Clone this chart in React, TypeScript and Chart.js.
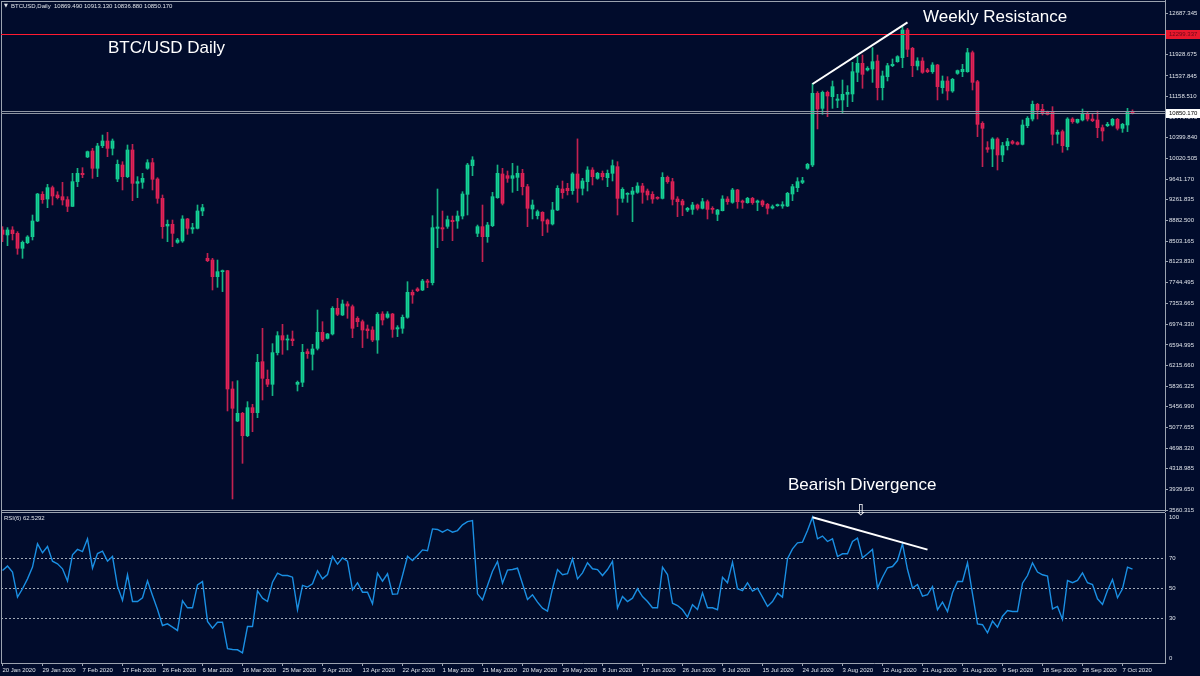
import React, { useEffect, useRef } from "react";
import { Chart, registerables } from "chart.js";

Chart.register(...registerables);

// ---------- DATA ----------
const OPEN = [
  8706, 8614, 8706, 8644, 8369, 8473, 8583, 8871, 9361, 9275,
  9484, 9349, 9318, 9263, 9140, 9594, 9747, 10047, 10157, 9839,
  10255, 10341, 10206, 9643, 9900, 9686, 10176, 9563, 9582, 9839,
  9943, 9643, 9287, 8779, 8810, 8479, 8504, 8908, 8724, 8736,
  9055, 8185, 8154, 7848, 7940, 7958, 5784, 5196, 5337, 4926,
  5441, 5349, 6286, 5962, 5870, 6452, 6764, 6684, 6703, 5870,
  5907, 6470, 6421, 6531, 6825, 6715, 6795, 7266, 7144, 7346,
  7297, 7083, 7021, 6887, 6868, 6684, 7162, 7101, 7162, 6887,
  6899, 7101, 7560, 7622, 7603, 7768, 7738, 8736, 8748, 8773,
  8883, 8871, 8963, 9361, 9888, 8644, 8767, 8583, 8785, 9300,
  9735, 9704, 9655, 9673, 9747, 9502, 9091, 8969, 9030, 8889,
  8816, 9073, 9459, 9471, 9428, 9735, 9471, 9594, 9808, 9655,
  9747, 9667, 9747, 9869, 9287, 9361, 9361, 9398, 9514, 9422,
  9361, 9306, 9287, 9673, 9594, 9275, 9238, 9073, 9085, 9165,
  9104, 9226, 9104, 8993, 9061, 9275, 9214, 9441, 9238, 9208,
  9287, 9214, 9238, 9177, 9110, 9153, 9147, 9147, 9367, 9483,
  9581, 9839, 9900, 11217, 10941, 11235, 11156, 11088, 11095, 11199,
  11205, 11603, 11768, 11646, 11664, 11811, 11321, 11523, 11725, 11799,
  11872, 12381, 12044, 11719, 11811, 11646, 11615, 11738, 11321, 11444,
  11260, 11584, 11615, 11615, 11964, 11431, 10666, 10219, 10194, 10378,
  10084, 10255, 10329, 10311, 10280, 10623, 10745, 11015, 10923, 10868,
  10880, 10464, 10513, 10237, 10745, 10684, 10727, 10850, 10745, 10727,
  10586, 10623, 10635, 10739, 10574, 10635, 10869.49,
];
const HIGH = [
  8767, 8749, 8767, 8675, 8504, 8602, 8981, 9379, 9410, 9545,
  9514, 9410, 9582, 9318, 9747, 9839, 9851, 10157, 10206, 10298,
  10451, 10500, 10378, 9992, 9961, 10268, 10280, 9686, 9747, 9998,
  10022, 9667, 9349, 8889, 8889, 8552, 8969, 8920, 8828, 9165,
  9177, 8277, 8185, 8154, 7971, 7965, 5919, 5937, 5355, 5551,
  5502, 6421, 6899, 6133, 6617, 6838, 6972, 6776, 6850, 5931,
  6605, 6519, 6605, 7236, 7021, 6807, 7297, 7450, 7419, 7389,
  7328, 7113, 7052, 6960, 6929, 7187, 7205, 7205, 7174, 6948,
  7144, 7756, 7603, 7646, 7799, 7799, 8969, 9459, 9055, 8963,
  8963, 9055, 9410, 9931, 10053, 8797, 9165, 8846, 9398, 9900,
  9839, 9790, 9931, 9882, 9820, 9545, 9257, 9073, 9043, 8908,
  9214, 9520, 9606, 9563, 9759, 10380, 9655, 9869, 9851, 9765,
  9790, 9808, 9992, 9961, 9483, 9392, 9490, 9575, 9563, 9459,
  9410, 9318, 9759, 9698, 9655, 9318, 9269, 9122, 9214, 9183,
  9287, 9257, 9134, 9085, 9336, 9318, 9471, 9453, 9257, 9306,
  9306, 9257, 9257, 9196, 9165, 9183, 9226, 9398, 9545, 9667,
  9673, 9931, 11401, 11248, 11260, 11260, 11444, 11199, 11462, 11358,
  11787, 11891, 11921, 11707, 12056, 11921, 11627, 11768, 11848, 11909,
  12442, 12411, 12062, 11872, 11872, 11676, 11781, 11750, 11536, 11523,
  11493, 11646, 11750, 12044, 11995, 11456, 10696, 10329, 10402, 10402,
  10317, 10390, 10353, 10329, 10727, 10788, 11076, 11033, 11015, 10892,
  10972, 10543, 10543, 10770, 10770, 10745, 10929, 10868, 10850, 10892,
  10635, 10684, 10758, 10758, 10666, 10941, 10913.13,
];
const LOW = [
  8491, 8418, 8522, 8259, 8185, 8455, 8522, 8859, 9196, 9116,
  9165, 9275, 9165, 9043, 9134, 9502, 9667, 10035, 9655, 9686,
  10219, 10053, 10084, 9594, 9441, 9667, 9245, 9300, 9471, 9820,
  9441, 9196, 8552, 8491, 8399, 8461, 8479, 8626, 8644, 8724,
  8969, 8124, 7603, 7652, 7573, 5380, 3763, 5184, 4418, 4908,
  4999, 5257, 5582, 5827, 5662, 6409, 6421, 6501, 6580, 5747,
  5827, 6347, 6133, 6501, 6654, 6703, 6776, 7132, 7132, 7083,
  6727, 6929, 6544, 6715, 6654, 6439, 6960, 7083, 6733, 6746,
  6807, 7083, 7358, 7573, 7591, 7646, 7695, 8381, 8510, 8736,
  8510, 8736, 8908, 8981, 9704, 8583, 8124, 8479, 8767, 9287,
  9165, 9581, 9398, 9428, 9349, 8767, 8908, 8908, 8601, 8663,
  8797, 9061, 9287, 9349, 9361, 9214, 9349, 9422, 9532, 9637,
  9624, 9502, 9606, 8981, 9214, 9214, 8859, 9379, 9196, 9257,
  9196, 9269, 9275, 9563, 9165, 8951, 8969, 9043, 8993, 9073,
  9091, 8908, 9012, 8877, 9055, 9177, 9196, 9104, 9104, 9196,
  9177, 9061, 9134, 8999, 9091, 9140, 9104, 9134, 9245, 9410,
  9557, 9820, 9869, 10562, 10831, 10788, 10941, 10954, 10850, 10972,
  11064, 11431, 11309, 11627, 11419, 11095, 11095, 11444, 11707, 11787,
  11689, 11891, 11523, 11646, 11584, 11597, 11584, 11095, 11217, 11095,
  11235, 11566, 11523, 11603, 11278, 10421, 9869, 10133, 9869, 9808,
  9961, 10176, 10280, 10268, 10268, 10586, 10709, 10745, 10819, 10819,
  10268, 10298, 10133, 10176, 10666, 10666, 10709, 10709, 10696, 10402,
  10341, 10605, 10617, 10543, 10500, 10513, 10836.88,
];
const CLOSE = [
  8626, 8706, 8638, 8369, 8479, 8577, 8871, 9367, 9263, 9484,
  9330, 9300, 9257, 9140, 9594, 9747, 9722, 10145, 9839, 10249,
  10341, 10206, 10341, 9912, 9686, 10176, 9563, 9594, 9655, 9943,
  9637, 9287, 8767, 8810, 8644, 8522, 8908, 8736, 8749, 9055,
  9116, 8142, 7848, 7940, 7958, 5784, 5429, 5337, 4926, 5441,
  5349, 6274, 5980, 5870, 6452, 6764, 6684, 6703, 6672, 5907,
  6458, 6433, 6519, 6825, 6684, 6795, 7266, 7156, 7346, 7309,
  6899, 7021, 6868, 6856, 6684, 7156, 7052, 7162, 6880, 6911,
  7101, 7560, 7511, 7591, 7768, 7744, 8748, 8761, 8724, 8896,
  8859, 8963, 9367, 9900, 9992, 8767, 8583, 8797, 9318, 9747,
  9196, 9655, 9704, 9747, 9502, 9104, 9165, 9043, 8871, 8816,
  9073, 9471, 9392, 9428, 9735, 9471, 9606, 9808, 9686, 9747,
  9686, 9747, 9888, 9287, 9453, 9379, 9422, 9514, 9398, 9349,
  9275, 9287, 9673, 9594, 9269, 9226, 9165, 9104, 9165, 9104,
  9226, 9085, 9085, 9073, 9275, 9226, 9441, 9226, 9214, 9287,
  9208, 9238, 9165, 9104, 9134, 9171, 9171, 9379, 9502, 9594,
  9612, 9912, 11217, 10929, 11235, 11168, 11340, 11113, 11199, 11235,
  11615, 11768, 11566, 11676, 11799, 11321, 11536, 11725, 11750, 11891,
  12381, 12026, 11725, 11811, 11603, 11615, 11738, 11340, 11444, 11260,
  11474, 11634, 11658, 11964, 11419, 10647, 10574, 10188, 10378, 10084,
  10255, 10329, 10298, 10280, 10635, 10758, 11015, 10911, 10850, 10831,
  10464, 10500, 10255, 10745, 10696, 10739, 10850, 10745, 10715, 10586,
  10525, 10647, 10739, 10574, 10647, 10880, 10850.17,
];
const RSI = [
  61.7, 64.6, 60.6, 43.9, 49.5, 56.1, 63.9, 79.5, 73.5, 77.7,
  67.9, 66.1, 62.8, 54.6, 72.1, 75.7, 74.3, 82.8, 63.2, 73.0,
  74.6, 67.9, 71.0, 51.2, 41.7, 58.8, 41.0, 41.0, 43.5, 54.8,
  45.0, 35.7, 25.0, 26.1, 23.9, 21.7, 41.5, 36.8, 36.8, 52.1,
  54.3, 27.7, 23.2, 27.2, 27.2, 9.5, 9.0, 8.8, 6.8, 24.3,
  24.3, 48.1, 43.2, 41.0, 53.9, 59.9, 58.3, 58.3, 57.2, 35.5,
  51.7, 50.6, 52.8, 61.5, 56.1, 59.0, 71.0, 65.9, 70.1, 67.9,
  48.8, 53.5, 47.2, 47.2, 39.5, 59.9, 54.6, 59.5, 45.9, 46.1,
  58.3, 71.2, 68.3, 71.7, 75.4, 74.8, 89.4, 89.0, 87.2, 89.0,
  87.2, 88.3, 92.1, 94.3, 95.0, 46.1, 42.1, 51.7, 61.2, 67.7,
  53.2, 61.9, 62.3, 63.2, 52.8, 42.3, 45.5, 40.6, 36.6, 34.6,
  49.5, 62.3, 58.8, 59.5, 69.5, 56.1, 60.1, 66.8, 62.8,
  62.3, 58.3, 62.3, 67.7, 36.6, 44.3, 41.0, 43.2, 49.5, 44.3,
  41.0, 36.8, 36.8, 63.9, 59.0, 39.9, 38.3, 35.5, 30.6, 38.8,
  35.7, 46.8, 36.8, 36.8, 35.5, 57.2, 53.5, 67.2, 49.5, 48.3,
  53.5, 47.9, 49.9, 43.9, 37.7, 41.0, 46.6, 43.9, 69.5, 76.1,
  80.1, 80.6, 88.3, 97.2, 82.8, 84.6, 81.0, 82.8, 71.0, 72.8,
  72.8, 81.0, 83.2, 70.1, 72.8, 75.7, 49.9, 57.2, 63.5, 64.3,
  68.3, 79.5, 62.3, 49.9, 52.3, 44.6, 45.5, 51.0, 35.5, 40.6,
  34.3, 46.8, 54.3, 54.3, 66.8, 46.1, 26.1, 25.5, 20.1, 27.9,
  23.9, 31.2, 35.0, 34.3, 34.3, 53.2, 58.3, 66.8, 60.6, 58.8,
  57.9, 36.1, 37.7, 29.0, 55.0, 53.5, 55.0, 60.1, 53.5, 52.3,
  42.8, 39.0, 48.3, 55.7, 43.5, 49.5, 63.9, 62.5292,
];
const X_TICK_LABELS = [
  "20 Jan 2020", "29 Jan 2020", "7 Feb 2020", "17 Feb 2020", "26 Feb 2020",
  "6 Mar 2020", "16 Mar 2020", "25 Mar 2020", "3 Apr 2020", "13 Apr 2020",
  "22 Apr 2020", "1 May 2020", "11 May 2020", "20 May 2020", "29 May 2020",
  "8 Jun 2020", "17 Jun 2020", "26 Jun 2020", "6 Jul 2020", "15 Jul 2020",
  "24 Jul 2020", "3 Aug 2020", "12 Aug 2020", "21 Aug 2020", "31 Aug 2020",
  "9 Sep 2020", "18 Sep 2020", "28 Sep 2020", "7 Oct 2020",
];
const X_TICK_STEP = 8;
const PRICE_TICKS = [
  12687.345, 12308.01, 11928.675, 11537.845, 11158.51, 10779.175, 10399.84,
  10020.505, 9641.17, 9261.835, 8882.5, 8503.165, 8123.83, 7744.495, 7353.665,
  6974.33, 6594.995, 6215.66, 5836.325, 5456.99, 5077.655, 4698.32, 4318.985,
  3939.65, 3560.315,
];
const PRICE_RANGE = [3542, 12932];
const RSI_TICKS = [100, 70, 50, 30, 0];
const RSI_LEVELS = [70, 50, 30];
const RESISTANCE = 12299.337;
const BID = 10850.17;
const ASK = 10897;
const PRICE_TREND = [{ x: 162, y: 11388 }, { x: 181, y: 12522 }];
const RSI_TREND = [{ x: 162, y: 97.2 }, { x: 185, y: 75.6 }];
const HEADER_OHLC = [10869.49, 10913.13, 10836.88, 10850.17];
const RSI_LAST = 62.5292;
const X_RANGE = [-0.3, 232.5];

// ---------- STYLE ----------
const BG = "#010c2c";
const FRAME = "#9ba3b0";
const AXIS_TEXT = "#dfe3ea";
const UP = "#14e3a0";
const DOWN = "#f5235b";
const UP_WICK = "#15b584";
const DOWN_WICK = "#c22150";
const FONT = '"Liberation Sans", Arial, sans-serif';
const SMALL = `6px ${FONT}`;

export default function App() {
  const mainRef = useRef<HTMLCanvasElement>(null);
  const rsiRef = useRef<HTMLCanvasElement>(null);

  useEffect(() => {
    const idx = OPEN.map((_, i) => i);
    const isUp = (i: number) => CLOSE[i] >= OPEN[i];

    const mainOverlay = {
      id: "mainOverlay",
      afterDraw(chart: any) {
        const { ctx, chartArea: a, scales } = chart;
        const x = scales.x;
        const y = scales.y;
        ctx.save();
        // frame
        ctx.strokeStyle = FRAME;
        ctx.lineWidth = 1;
        ctx.beginPath();
        ctx.moveTo(1.5, 1);
        ctx.lineTo(1.5, 513);
        ctx.moveTo(1, 1.5);
        ctx.lineTo(a.right, 1.5);
        ctx.moveTo(1, 510.5);
        ctx.lineTo(a.right, 510.5);
        ctx.moveTo(1, 512.5);
        ctx.lineTo(a.right, 512.5);
        ctx.stroke();

        // bid / ask lines
        ctx.strokeStyle = "#8d95a2";
        [ASK, BID].forEach((v) => {
          const py = Math.round(y.getPixelForValue(v)) + 0.5;
          ctx.beginPath();
          ctx.moveTo(a.left, py);
          ctx.lineTo(a.right, py);
          ctx.stroke();
        });

        // resistance line
        const yR = Math.round(y.getPixelForValue(RESISTANCE)) + 0.5;
        ctx.strokeStyle = "#ff1a30";
        ctx.lineWidth = 1.2;
        ctx.beginPath();
        ctx.moveTo(a.left, yR);
        ctx.lineTo(a.right, yR);
        ctx.stroke();

        // trend line
        ctx.strokeStyle = "#ffffff";
        ctx.lineWidth = 2;
        ctx.beginPath();
        ctx.moveTo(x.getPixelForValue(PRICE_TREND[0].x), y.getPixelForValue(PRICE_TREND[0].y));
        ctx.lineTo(x.getPixelForValue(PRICE_TREND[1].x), y.getPixelForValue(PRICE_TREND[1].y));
        ctx.stroke();

        // axis value boxes
        ctx.font = SMALL;
        ctx.textBaseline = "middle";
        ctx.textAlign = "left";
        ctx.fillStyle = "#e8182d";
        ctx.fillRect(a.right + 1, yR - 4.5, 34, 9);
        ctx.fillStyle = "#6b0a18";
        ctx.fillText(RESISTANCE.toFixed(3), a.right + 4, yR);
        const yB = Math.round(y.getPixelForValue(BID)) + 0.5;
        ctx.fillStyle = "#ffffff";
        ctx.fillRect(a.right + 1, yB - 4.5, 34, 9);
        ctx.fillStyle = "#000000";
        ctx.fillText(BID.toFixed(3), a.right + 4, yB);

        // header
        ctx.fillStyle = AXIS_TEXT;
        ctx.font = `5px "DejaVu Sans", ${FONT}`;
        ctx.fillText("▼", 4, 6);
        ctx.font = SMALL;
        ctx.fillText(
          "BTCUSD,Daily  " + HEADER_OHLC.map((v) => v.toFixed(3)).join(" "),
          11,
          6
        );

        // annotations
        ctx.fillStyle = "#ffffff";
        ctx.font = `17px ${FONT}`;
        ctx.fillText("BTC/USD Daily", 108, 48);
        ctx.fillText("Weekly Resistance", 923, 17);
        ctx.fillText("Bearish Divergence", 788, 485);
        ctx.font = `15px "DejaVu Sans", ${FONT}`;
        ctx.textAlign = "center";
        ctx.fillText("⇩", 861, 511);
        ctx.restore();
      },
    };

    const rsiOverlay = {
      id: "rsiOverlay",
      beforeDatasetsDraw(chart: any) {
        const { ctx, chartArea: a, scales } = chart;
        const y = scales.y;
        ctx.save();
        ctx.strokeStyle = "#a2aab6";
        ctx.lineWidth = 1;
        ctx.setLineDash([2, 2]);
        RSI_LEVELS.forEach((v) => {
          const py = Math.round(y.getPixelForValue(v)) + 0.5;
          ctx.beginPath();
          ctx.moveTo(a.left, py);
          ctx.lineTo(a.right, py);
          ctx.stroke();
        });
        ctx.restore();
      },
      afterDraw(chart: any) {
        const { ctx, chartArea: a, scales } = chart;
        const x = scales.x;
        const y = scales.y;
        ctx.save();
        ctx.strokeStyle = FRAME;
        ctx.lineWidth = 1;
        ctx.beginPath();
        ctx.moveTo(1.5, 0);
        ctx.lineTo(1.5, a.bottom);
        ctx.stroke();

        ctx.strokeStyle = "#ffffff";
        ctx.lineWidth = 2;
        ctx.beginPath();
        ctx.moveTo(x.getPixelForValue(RSI_TREND[0].x), y.getPixelForValue(RSI_TREND[0].y));
        ctx.lineTo(x.getPixelForValue(RSI_TREND[1].x), y.getPixelForValue(RSI_TREND[1].y));
        ctx.stroke();

        ctx.font = SMALL;
        ctx.fillStyle = AXIS_TEXT;
        ctx.textBaseline = "middle";
        ctx.textAlign = "left";
        ctx.fillText(`RSI(6) ${RSI_LAST}`, 4, 5);
        RSI_TICKS.forEach((v) => {
          let py = y.getPixelForValue(v);
          py = Math.min(Math.max(py, a.top + 4), a.bottom - 5);
          ctx.fillText(String(v), a.right + 4, py);
        });
        ctx.restore();
      },
    };

    const main = new Chart(mainRef.current as HTMLCanvasElement, {
      type: "bar",
      data: {
        datasets: [
          {
            data: idx.map((i) => ({ x: i, y: [LOW[i], HIGH[i]] })) as any,
            backgroundColor: idx.map((i) => (isUp(i) ? UP_WICK : DOWN_WICK)),
            barThickness: 1,
            grouped: false,
            borderWidth: 0,
          } as any,
          {
            data: idx.map((i) => ({ x: i, y: [OPEN[i], CLOSE[i]] })) as any,
            backgroundColor: idx.map((i) => (isUp(i) ? UP : DOWN)),
            barThickness: 3,
            grouped: false,
            borderWidth: 0,
            minBarLength: 1,
          } as any,
        ],
      },
      options: {
        animation: false,
        responsive: false,
        maintainAspectRatio: false,
        devicePixelRatio: 1,
        layout: { padding: { left: 1, right: 0, top: 0, bottom: 9 }, autoPadding: false } as any,
        plugins: { legend: { display: false }, tooltip: { enabled: false } },
        scales: {
          x: { type: "linear", min: X_RANGE[0], max: X_RANGE[1], display: false, offset: false },
          y: {
            position: "right",
            min: PRICE_RANGE[0],
            max: PRICE_RANGE[1],
            afterFit: (s: any) => {
              s.width = 35;
              s.paddingTop = 0;
              s.paddingBottom = 0;
            },
            afterBuildTicks: (s: any) => {
              s.ticks = PRICE_TICKS.map((v) => ({ value: v }));
            },
            ticks: {
              callback: (v: any) => Number(v).toFixed(3),
              color: AXIS_TEXT,
              font: { size: 6, family: FONT },
              padding: 1,
              autoSkip: false,
            },
            grid: { drawOnChartArea: false, drawTicks: true, tickLength: 3, color: FRAME },
            border: { display: true, color: FRAME },
          },
        },
      } as any,
      plugins: [mainOverlay],
    });

    const rsi = new Chart(rsiRef.current as HTMLCanvasElement, {
      type: "line",
      data: {
        datasets: [
          {
            data: RSI.map((v, i) => ({ x: i, y: v })),
            borderColor: "#1a8fe3",
            borderWidth: 1.4,
            pointRadius: 0,
            tension: 0,
            fill: false,
          },
        ],
      },
      options: {
        animation: false,
        responsive: false,
        maintainAspectRatio: false,
        devicePixelRatio: 1,
        layout: { padding: { left: 1, right: 0, top: 0, bottom: 0 }, autoPadding: false } as any,
        plugins: { legend: { display: false }, tooltip: { enabled: false } },
        scales: {
          x: {
            type: "linear",
            min: X_RANGE[0],
            max: X_RANGE[1],
            offset: false,
            afterFit: (s: any) => {
              s.height = 13;
              s.paddingLeft = 0;
              s.paddingRight = 0;
            },
            afterBuildTicks: (s: any) => {
              s.ticks = X_TICK_LABELS.map((_, k) => ({ value: k * X_TICK_STEP }));
            },
            ticks: {
              callback: (v: any) => X_TICK_LABELS[Math.round(Number(v) / X_TICK_STEP)],
              align: "start",
              maxRotation: 0,
              autoSkip: false,
              color: AXIS_TEXT,
              font: { size: 6, family: FONT },
              padding: 1,
            },
            grid: { drawOnChartArea: false, drawTicks: true, tickLength: 3, color: FRAME },
            border: { display: true, color: FRAME },
          },
          y: {
            position: "right",
            min: 0,
            max: 100,
            afterFit: (s: any) => {
              s.width = 35;
              s.paddingTop = 0;
              s.paddingBottom = 0;
            },
            ticks: { display: false },
            grid: { display: false },
            border: { display: true, color: FRAME },
          },
        },
      } as any,
      plugins: [rsiOverlay],
    });

    return () => {
      main.destroy();
      rsi.destroy();
    };
  }, []);

  return (
    <div
      style={{
        position: "fixed",
        left: 0,
        top: 0,
        width: 1200,
        height: 676,
        background: BG,
        overflow: "hidden",
      }}
    >
      <canvas
        ref={mainRef}
        width={1200}
        height={520}
        style={{ position: "absolute", left: 0, top: 0, width: 1200, height: 520 }}
      />
      <canvas
        ref={rsiRef}
        width={1200}
        height={163}
        style={{ position: "absolute", left: 0, top: 513, width: 1200, height: 163 }}
      />
    </div>
  );
}
